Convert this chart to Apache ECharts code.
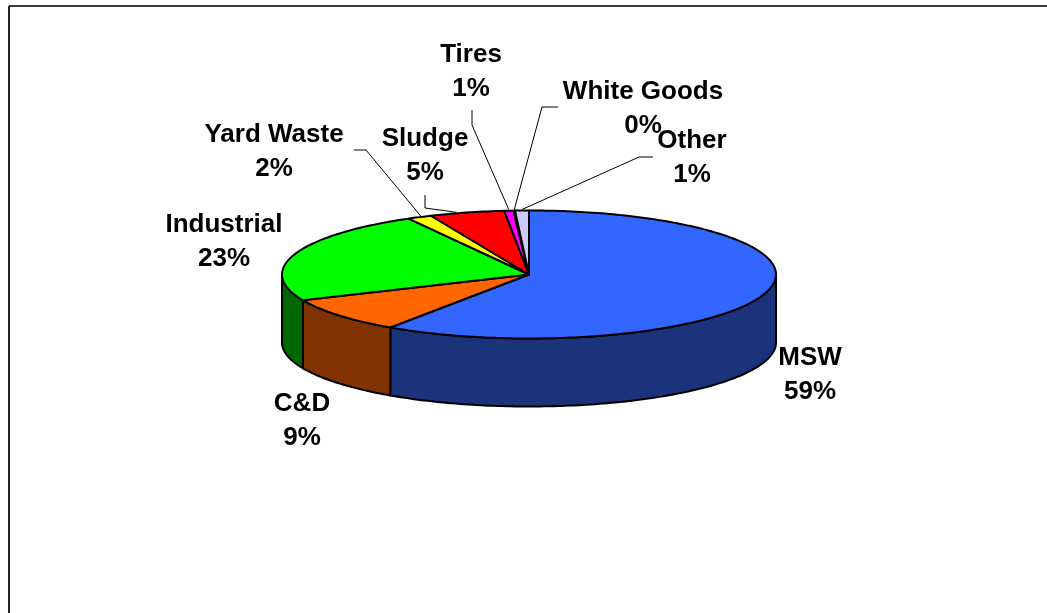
<!DOCTYPE html>
<html>
<head>
<meta charset="utf-8">
<title>Waste composition</title>
<style>
  html, body { margin: 0; padding: 0; background: #fff; }
  #chart { width: 1047px; height: 613px; }
</style>
</head>
<body>
<div id="chart"></div>
<script src="https://cdn.jsdelivr.net/npm/echarts@6/dist/echarts.min.js"></script>
<script>
// slices, clockwise from 12 o'clock
const categories = ["MSW", "C&D", "Industrial", "Yard Waste", "Sludge", "Tires", "White Goods", "Other"];
const shares = [59.49, 8.91, 23.49, 1.61, 4.9, 0.6, 0.1, 0.9];

const topColors = ["#3366ff", "#ff6600", "#00ff00", "#ffff00", "#ff0000", "#ff00ff", "#ccffff", "#ccccff"];
const wallColors = ["#1a337a", "#803300", "#006600", "#808000", "#800000", "#800080", "#668080", "#666680"];

// label block centres, and the elbow points of the leader lines
const labelCenters = [
  [810, 375], [302, 421], [224, 242], [274, 152],
  [425, 156], [471, 72], [643, 109], [692, 158],
];
const leaderElbows = [
  null, null, null,
  [[354, 150], [366, 150]],
  [[425, 195], [425, 208]],
  [[472, 110], [472, 125]],
  [[558, 107], [542, 107]],
  [[653, 157], [639, 157]],
];
// where along its slice each leader line lands
const leaderAnchors = [0.5, 0.5, 0.5, 0.55, 0.36, 0.5, 0.5, 0.5];

// pie projection
const cx = 529;
const cy = 274.5;
const rx = 247;
const ry = 64;
const depth = 68;

const total = shares.reduce((a, b) => a + b, 0);
let running = 0;
const sliceData = shares.map((v, i) => {
  const start = (running / total) * 360;
  running += v;
  return [start, (running / total) * 360, i];
});

function rimPoint(deg, yOffset) {
  const t = (deg * Math.PI) / 180;
  return [cx + rx * Math.sin(t), cy - ry * Math.cos(t) + (yOffset || 0)];
}

function arcPoints(from, to, yOffset) {
  const pts = [];
  const steps = Math.max(2, Math.ceil(Math.abs(to - from)));
  for (let i = 0; i <= steps; i++) {
    pts.push(rimPoint(from + ((to - from) * i) / steps, yOffset));
  }
  return pts;
}

function renderWall(params, api) {
  // only the front half of the rim is visible
  const from = Math.max(api.value(0), 90);
  const to = Math.min(api.value(1), 270);
  if (to <= from) return null;
  const idx = api.value(2);
  return {
    type: "polygon",
    shape: { points: arcPoints(from, to, 0).concat(arcPoints(to, from, depth)) },
    style: { fill: wallColors[idx], stroke: "#000", lineWidth: 2, lineJoin: "round" },
  };
}

function renderTop(params, api) {
  const idx = api.value(2);
  return {
    type: "polygon",
    shape: { points: [[cx, cy]].concat(arcPoints(api.value(0), api.value(1), 0)) },
    style: { fill: topColors[idx], stroke: "#000", lineWidth: 2, lineJoin: "round" },
  };
}

function renderLabel(params, api) {
  const idx = api.value(2);
  const children = [];
  const elbows = leaderElbows[idx];
  if (elbows) {
    const start = api.value(0);
    const end = rimPoint(start + (api.value(1) - start) * leaderAnchors[idx], -1);
    children.push({
      type: "polyline",
      shape: { points: elbows.concat([end]) },
      style: { fill: "none", stroke: "#000", lineWidth: 1 },
    });
  }
  children.push({
    type: "text",
    style: {
      x: labelCenters[idx][0],
      y: labelCenters[idx][1],
      text: categories[idx] + "\n" + Math.round(shares[idx]) + "%",
      fill: "#000",
      font: "bold 26px 'Liberation Sans', Arial, sans-serif",
      lineHeight: 34,
      align: "center",
      verticalAlign: "middle",
    },
  });
  return { type: "group", children: children };
}

const chart = echarts.init(document.getElementById("chart"), null, { renderer: "canvas" });

chart.setOption({
  animation: false,
  backgroundColor: "#fff",
  tooltip: { show: false },
  graphic: [
    // chart area frame, only the top and left edges fall inside the picture
    { type: "line", silent: true, shape: { x1: 9, y1: 6, x2: 1047, y2: 6 }, style: { stroke: "#3a3a3a", lineWidth: 2 } },
    { type: "line", silent: true, shape: { x1: 9, y1: 6, x2: 9, y2: 613 }, style: { stroke: "#222", lineWidth: 2 } },
  ],
  series: [
    { type: "custom", coordinateSystem: "none", silent: true, z: 2, data: sliceData, renderItem: renderWall },
    { type: "custom", coordinateSystem: "none", silent: true, z: 3, data: sliceData, renderItem: renderTop },
    { type: "custom", coordinateSystem: "none", silent: true, z: 4, data: sliceData, renderItem: renderLabel },
  ],
});
</script>
</body>
</html>
